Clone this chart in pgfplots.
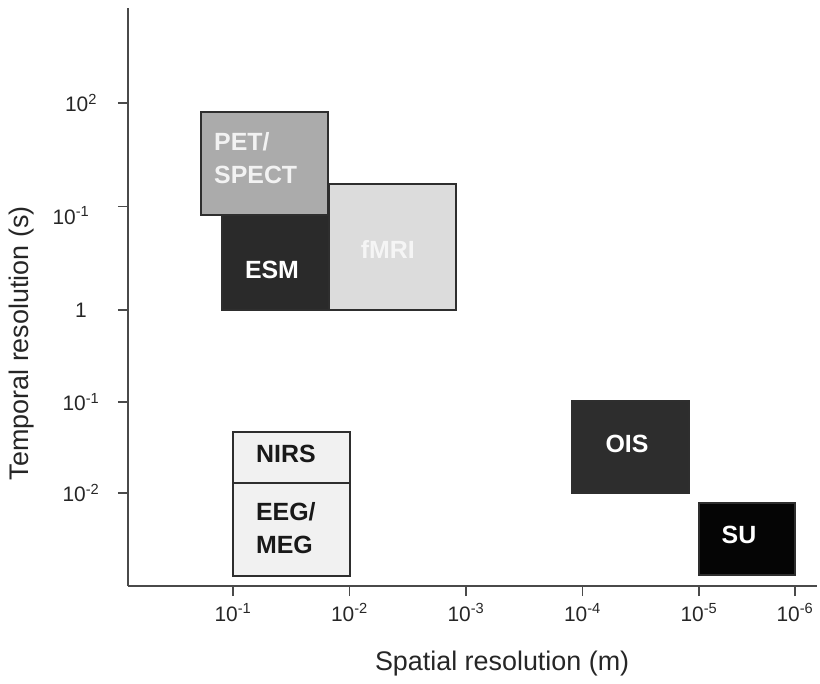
\documentclass[border=0pt]{standalone}
\usepackage{pgfplots}
\pgfplotsset{compat=1.18}
\usepackage{fontspec}
\setmainfont{Liberation Sans}
\definecolor{axisgray}{HTML}{4A4A4A}
\definecolor{boxline}{HTML}{2E2E2E}
\definecolor{petfill}{HTML}{ABABAB}
\definecolor{esmfill}{HTML}{2A2A2A}
\definecolor{fmrifill}{HTML}{DCDCDC}
\definecolor{nirsfill}{HTML}{F1F1F1}
\definecolor{oisfill}{HTML}{2D2D2D}
\definecolor{sufill}{HTML}{050505}
\tikzset{box/.style={font=\fontsize{25}{33}\selectfont\bfseries, inner sep=0pt}}
\begin{document}
\begin{tikzpicture}
\begin{axis}[
  at={(0,0)}, anchor=south west,
  scale only axis, width=689bp, height=578bp,
  xmin=0.099, xmax=6.013, ymin=-2.667, ymax=2.918,
  axis lines*=left,
  axis line style={-, draw=axisgray, line width=1.2bp},
  tick align=outside, major tick length=10bp,
  tick style={draw=axisgray, line width=1.2bp},
  xtick={1,2,3,4,5,5.824},
  xticklabels={10\textsuperscript{-1},10\textsuperscript{-2},10\textsuperscript{-3},10\textsuperscript{-4},10\textsuperscript{-5},10\textsuperscript{-6}},
  ytick={2,0,-0.889,-1.768},
  yticklabels={10\textsuperscript{2},1,10\textsuperscript{-1},10\textsuperscript{-2}},
  extra y ticks={1},
  extra y tick labels={10\textsuperscript{-1}},
  extra y tick style={yticklabel style={xshift=-10bp, yshift=-9bp}},
  ticklabel style={font=\fontsize{21}{23}\selectfont, text=black!85},
  xticklabel style={yshift=-4bp},
  yticklabel style={anchor=center, xshift=-37bp},
  xlabel={Spatial resolution (m)},
  ylabel={Temporal resolution (s)},
  every axis x label/.style={at={(axis description cs:0.543,-0.135)}, anchor=center, font=\fontsize{27}{30}\selectfont, text=black!85},
  every axis y label/.style={at={(axis description cs:-0.154,0.42)}, anchor=center, rotate=90, font=\fontsize{27}{30}\selectfont, text=black!85},
  clip=false,
  every axis plot/.append style={no marks, draw=boxline, line width=1.2bp},
]
% ESM
\addplot[fill=esmfill] coordinates {(0.906,0) (1.824,0) (1.824,0.918) (0.906,0.918)} -- cycle;
% fMRI
\addplot[fill=fmrifill] coordinates {(1.824,0) (2.914,0) (2.914,1.217) (1.824,1.217)} -- cycle;
% PET/SPECT
\addplot[fill=petfill] coordinates {(0.725,0.918) (1.815,0.918) (1.815,1.913) (0.725,1.913)} -- cycle;
% NIRS
\addplot[fill=nirsfill] coordinates {(1.0,-1.671) (2.004,-1.671) (2.004,-1.179) (1.0,-1.179)} -- cycle;
% EEG/MEG
\addplot[fill=nirsfill] coordinates {(1.0,-2.570) (2.004,-2.570) (2.004,-1.671) (1.0,-1.671)} -- cycle;
% OIS
\addplot[fill=oisfill] coordinates {(3.910,-1.768) (4.914,-1.768) (4.914,-0.879) (3.910,-0.879)} -- cycle;
% SU
\addplot[fill=sufill] coordinates {(5.0,-2.560) (5.824,-2.560) (5.824,-1.865) (5.0,-1.865)} -- cycle;

\node[box, anchor=west, align=left, text=white!95!black] at (axis cs:0.837,1.469) {PET/\\SPECT};
\node[box, text=white] at (axis cs:1.335,0.386) {ESM};
\node[box, text=white!96!black] at (axis cs:2.330,0.580) {fMRI};
\node[box, anchor=west, text=black!90] at (axis cs:1.197,-1.391) {NIRS};
\node[box, anchor=west, align=left, text=black!90] at (axis cs:1.197,-2.106) {EEG/\\MEG};
\node[box, text=white] at (axis cs:4.382,-1.295) {OIS};
\node[box, text=white] at (axis cs:5.343,-2.174) {SU};
\end{axis}
\pgfresetboundingbox
\path (-128bp,-98bp) rectangle (692bp,586bp);
\end{tikzpicture}
\end{document}
